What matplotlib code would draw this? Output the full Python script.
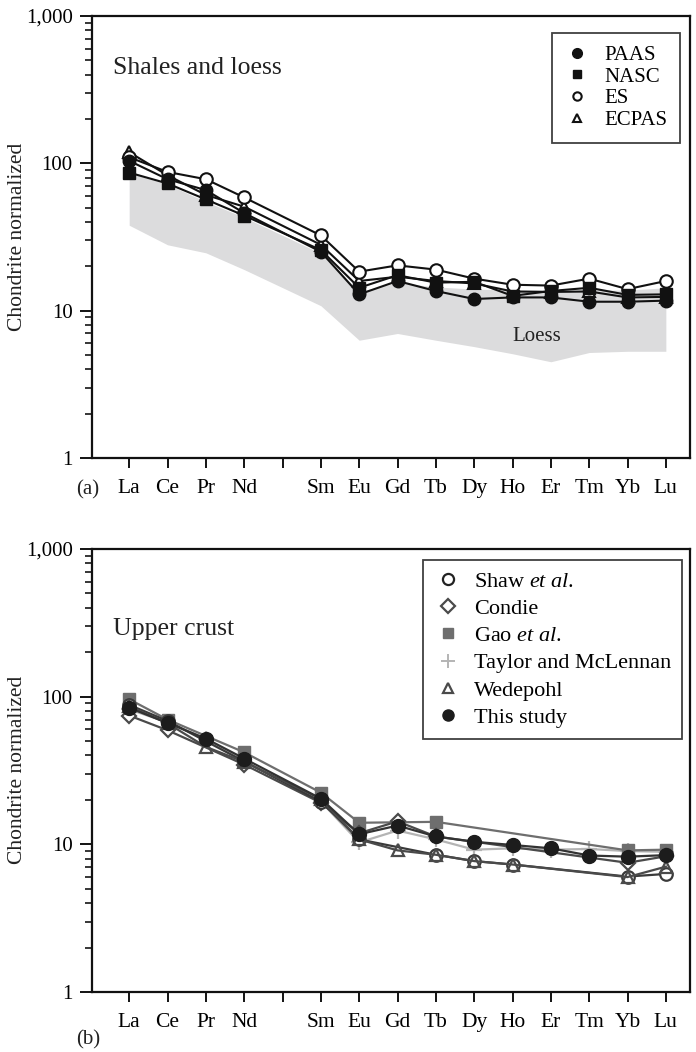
import numpy as np
import matplotlib
matplotlib.use("Agg")
import matplotlib.pyplot as plt
from matplotlib.lines import Line2D
from matplotlib.ticker import FixedLocator, FuncFormatter, LogLocator, NullFormatter

plt.rcParams['font.family'] = ['Liberation Serif', 'DejaVu Serif']
plt.rcParams['mathtext.fontset'] = 'custom'
plt.rcParams['mathtext.rm'] = 'Liberation Serif'
plt.rcParams['mathtext.it'] = 'Liberation Serif:italic'

# Rare earth elements (Pm is left as an empty slot)
elements = ["La", "Ce", "Pr", "Nd", "", "Sm", "Eu", "Gd", "Tb", "Dy", "Ho", "Er", "Tm", "Yb", "Lu"]
nan = np.nan

# ---- (a) shales and loess, chondrite normalized ----
paas  = [104, 78, 65.8, 46, nan, 25.1, 12.9, 15.9, 13.6, 12.0, 12.3, 12.3, 11.5, 11.5, 11.7]
nasc  = [86.5, 73, 56.9, 44.2, nan, 25.8, 14.3, 17.4, 15.5, 15.7, 12.6, 13.6, 14.3, 12.8, 12.9]
es    = [110, 87.4, 78, 58.7, nan, 32.4, 18.4, 20.3, 19.0, 16.5, 15.0, 14.8, 16.5, 14.0, 15.9]
ecpas = [119, 83, 61, 50.8, nan, 28, 15.9, 17.0, 15.9, 15.3, 13.5, 13.4, 13.5, 12.3, 12.4]
loess_low  = [38, 28, 24.7, 19, nan, 10.8, 6.3, 7.0, 6.3, 5.7, 5.1, 4.5, 5.2, 5.3, 5.3]
loess_high = [86, 72, 55, 43, nan, 24.5, 13.5, 15.5, 14.5, 14.0, 13.8, 13.8, 13.8, 13.8, 14.3]

# ---- (b) upper crust estimates, chondrite normalized ----
shaw     = [88, 68.5, nan, 36.4, nan, 19.5, 10.8, nan, 8.5, 7.7, 7.3, nan, nan, 6.05, 6.3]
condie   = [74.5, 59.2, nan, 34.7, nan, 19.1, 11.9, 14.3, 11.3, nan, nan, nan, nan, 7.5, 8.3]
gao      = [96, 70, nan, 42, nan, 22.4, 14.0, nan, 14.2, nan, nan, nan, nan, 9.1, 9.2]
taylor   = [82, 67, 51.8, 36.6, nan, 19.5, 10.3, 12.4, 10.8, 9.2, 9.4, 9.2, 9.3, 9.0, 8.9]
wedepohl = [86, 66, 45.7, 36.2, nan, 20.3, 10.8, 9.1, 8.5, 7.7, 7.3, nan, nan, 6.0, 7.06]
this_study = [84, 66.4, 52, 38.1, nan, 20.4, 11.7, 13.4, 11.3, 10.4, 9.9, 9.4, 8.4, 8.25, 8.45]

x = np.arange(len(elements))

fig = plt.figure(figsize=(6.96, 10.52), dpi=100)
L, W = 92 / 696, 598 / 696
ax_a = fig.add_axes([L, 1 - 458 / 1052, W, 442 / 1052])
ax_b = fig.add_axes([L, 1 - 992 / 1052, W, 443 / 1052])


def series(ax, vals, **kw):
    v = np.asarray(vals, dtype=float)
    m = ~np.isnan(v)
    ax.plot(x[m], v[m], **kw)


def style_axes(ax):
    ax.set_yscale('log')
    ax.set_ylim(1, 1000)
    ax.set_xlim(-0.97, 14.63)
    ax.yaxis.set_major_locator(FixedLocator([1, 10, 100, 1000]))
    ax.yaxis.set_major_formatter(FuncFormatter(lambda v, p: f"{v:,.0f}"))
    ax.yaxis.set_minor_locator(LogLocator(base=10, subs=np.arange(2, 10)))
    ax.yaxis.set_minor_formatter(NullFormatter())
    ax.set_xticks(x)
    ax.set_xticklabels(elements)
    ax.tick_params(axis='y', which='major', direction='out', length=9, width=1.3,
                   labelsize=15, pad=5)
    ax.tick_params(axis='y', which='minor', direction='out', length=5, width=1.1)
    ax.tick_params(axis='x', direction='out', length=7, width=1.3, labelsize=15.5, pad=8)
    for s in ax.spines.values():
        s.set_linewidth(1.6)
        s.set_color('#111111')


# ---- panel (a) ----
style_axes(ax_a)
lo = np.asarray(loess_low, float)
hi = np.asarray(loess_high, float)
m = ~np.isnan(lo)
ax_a.fill_between(x[m], lo[m], hi[m], color='#dcdcdd', lw=0, zorder=1)
lw = 1.5
series(ax_a, ecpas, color='#111111', lw=lw, marker='^', ms=9, mfc='white', mec='#111111', mew=1.5, zorder=3)
series(ax_a, es, color='#111111', lw=lw, marker='o', ms=9, mfc='white', mec='#111111', mew=1.5, zorder=3)
series(ax_a, nasc, color='#111111', lw=lw, marker='s', ms=8, mfc='#111111', mec='#111111', zorder=4)
series(ax_a, paas, color='#111111', lw=lw, marker='o', ms=9, mfc='#111111', mec='#111111', zorder=5)
ax_a.text(0.035, 0.882, "Shales and loess", transform=ax_a.transAxes, fontsize=18.5,
          ha='left', va='center', color='#222222')
ax_a.text(10.64, 6.7, "Loess", fontsize=15, ha='center', va='center', color='#222222')

h_a = [
    Line2D([], [], ls='none', marker='o', ms=7, mfc='#111111', mec='#111111'),
    Line2D([], [], ls='none', marker='s', ms=6, mfc='#111111', mec='#111111'),
    Line2D([], [], ls='none', marker='o', ms=6, mfc='white', mec='#111111', mew=1.5),
    Line2D([], [], ls='none', marker='^', ms=6, mfc='white', mec='#111111', mew=1.5),
]
leg_a = ax_a.legend(h_a, ["PAAS", "NASC", "ES", "ECPAS"], loc='upper right',
                    bbox_to_anchor=(0.983, 0.9615), borderaxespad=0, fontsize=15,
                    frameon=True, fancybox=False, edgecolor='#111111', handlelength=1.2,
                    handletextpad=0.7, labelspacing=0.1, borderpad=0.6)
leg_a.get_frame().set_linewidth(1.3)

# ---- panel (b) ----
style_axes(ax_b)
c_shaw, c_condie, c_gao, c_taylor, c_wede, c_this = '#3a3a3a', '#4a4a4a', '#6e6e6e', '#b4b4b4', '#4a4a4a', '#1c1c1c'
series(ax_b, taylor, color=c_taylor, lw=1.6, marker='+', ms=11, mew=1.6, zorder=2)
series(ax_b, gao, color=c_gao, lw=1.6, marker='s', ms=8, mfc=c_gao, mec=c_gao, zorder=3)
series(ax_b, condie, color=c_condie, lw=1.6, marker='D', ms=7.5, mfc='white', mec=c_condie, mew=1.6, zorder=3)
series(ax_b, shaw, color=c_shaw, lw=1.6, marker='o', ms=9, mfc='white', mec=c_shaw, mew=1.6, zorder=3)
series(ax_b, wedepohl, color=c_wede, lw=1.6, marker='^', ms=8, mfc='none', mec=c_wede, mew=1.6, zorder=4)
series(ax_b, this_study, color='#333333', lw=1.6, marker='o', ms=10, mfc=c_this, mec=c_this, zorder=5)
ax_b.text(0.035, 0.819, "Upper crust", transform=ax_b.transAxes, fontsize=18.5,
          ha='left', va='center', color='#222222')

h_b = [
    Line2D([], [], ls='none', marker='o', ms=8, mfc='white', mec='#222222', mew=1.6),
    Line2D([], [], ls='none', marker='D', ms=7, mfc='white', mec=c_condie, mew=1.6),
    Line2D([], [], ls='none', marker='s', ms=7, mfc=c_gao, mec=c_gao),
    Line2D([], [], ls='none', marker='+', ms=10, mew=1.4, color=c_taylor),
    Line2D([], [], ls='none', marker='^', ms=7, mfc='white', mec=c_wede, mew=1.6),
    Line2D([], [], ls='none', marker='o', ms=8, mfc=c_this, mec=c_this),
]
labels_b = [r"Shaw $\mathit{et\ al.}$", "Condie", r"Gao $\mathit{et\ al.}$",
            "Taylor and McLennan", "Wedepohl", "This study"]
leg_b = ax_b.legend(h_b, labels_b, loc='upper right', bbox_to_anchor=(0.9866, 0.975),
                    borderaxespad=0, fontsize=16, frameon=True, fancybox=False,
                    edgecolor='#111111', handlelength=1.3, handletextpad=0.5,
                    labelspacing=0.3, borderpad=0.5)
leg_b.get_frame().set_linewidth(1.3)

# y-axis titles and panel letters
for ycen in (237, 770):
    fig.text(18 / 696, 1 - ycen / 1052, "Chondrite normalized", rotation=90,
             ha='center', va='center', fontsize=15.5, color='#222222')
fig.text(88 / 696, 1 - 490 / 1052, "(a)", ha='center', va='center', fontsize=15, color='#222222')
fig.text(88 / 696, 1 - 1040 / 1052, "(b)", ha='center', va='center', fontsize=15, color='#222222')

fig.savefig("out.png", dpi=100)
